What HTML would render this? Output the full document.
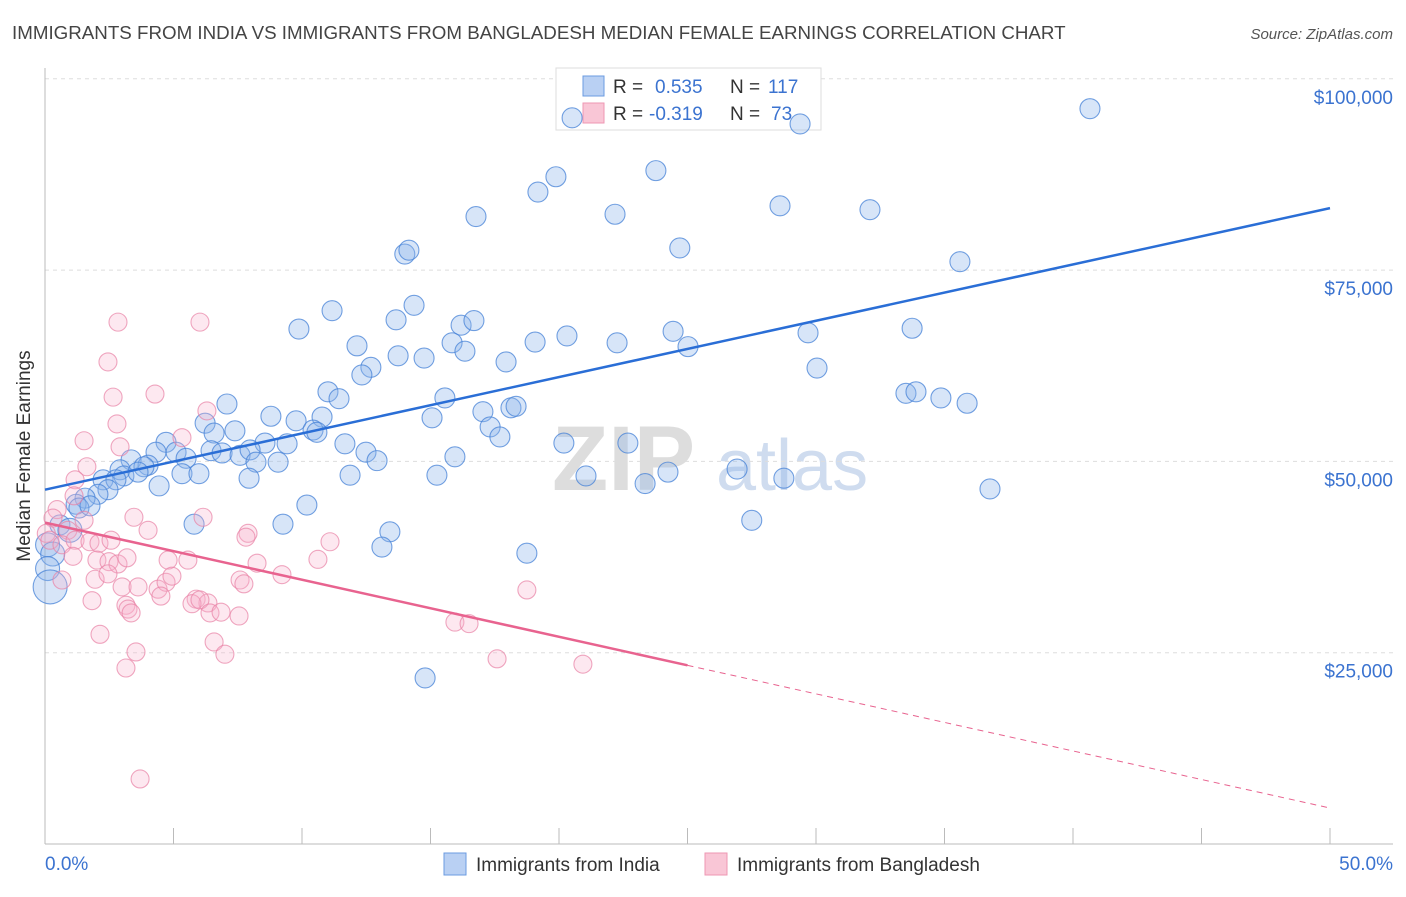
<!DOCTYPE html>
<html><head><meta charset="utf-8"><style>
body{margin:0;background:#fff;font-family:"Liberation Sans",sans-serif;}
svg text{font-family:"Liberation Sans",sans-serif;}
</style></head><body>
<svg id="c" width="1406" height="892" xmlns="http://www.w3.org/2000/svg">
<text x="12" y="39" font-size="18.75" fill="#444">IMMIGRANTS FROM INDIA VS IMMIGRANTS FROM BANGLADESH MEDIAN FEMALE EARNINGS CORRELATION CHART</text>
<text x="1393" y="39" font-size="15" fill="#555" text-anchor="end" font-style="italic">Source: ZipAtlas.com</text>
<g><text x="552" y="490" font-size="92" fill="#ddd" font-family="Liberation Serif" font-weight="bold">ZIP</text><text x="716" y="490" font-size="72" fill="#cfdcef">atlas</text></g>
<g id="grid"></g><g id="axes"></g>
<text x="30" y="456" font-size="19" fill="#333" text-anchor="middle" transform="rotate(-90 30 456)">Median Female Earnings</text>
<text x="45" y="870" font-size="19" fill="#3b73d0">0.0%</text>
<text x="1393" y="870" font-size="19" fill="#3b73d0" text-anchor="end">50.0%</text>
<g>
<rect x="556" y="68" width="265" height="62" fill="#fff" stroke="#ddd"/>
<rect x="583" y="76" width="21" height="20" fill="#b9d0f3" stroke="#6b9be0"/>
<rect x="583" y="103" width="21" height="20" fill="#f9c6d6" stroke="#ee97b3"/>
<text x="613" y="93" font-size="19" fill="#333">R = </text><text x="655" y="93" font-size="19" fill="#3b73d0">0.535</text>
<text x="730" y="93" font-size="19" fill="#333">N = </text><text x="768" y="93" font-size="19" fill="#3b73d0">117</text>
<text x="613" y="120" font-size="19" fill="#333">R = </text><text x="649" y="120" font-size="19" fill="#3b73d0">-0.319</text>
<text x="730" y="120" font-size="19" fill="#333">N = </text><text x="771" y="120" font-size="19" fill="#3b73d0">73</text>
</g>
<g id="pts"></g><g id="lines"></g>
<g>
<rect x="444" y="853" width="22" height="22" fill="#b9d0f3" stroke="#6b9be0"/>
<text x="476" y="871" font-size="19" fill="#333">Immigrants from India</text>
<rect x="705" y="853" width="22" height="22" fill="#f9c6d6" stroke="#ee97b3"/>
<text x="737" y="871" font-size="19" fill="#333">Immigrants from Bangladesh</text>
</g>
</svg>
<script>
const yTicks=[25000,50000,75000,100000];
const yTickLabels=["$25,000","$50,000","$75,000","$100,000"];
const xTicks=[0,5,10,15,20,25,30,35,40,45,50];
const indiaX=[40.66,29.38,20.51,23.77,19.88,19.18,16.77,22.18,28.6,32.1,14.0,14.16,24.7,35.6,11.17,14.36,13.66,9.88,16.19,16.69,15.84,16.34,12.14,19.07,20.31,22.26,24.44,25.02,29.69,33.74,12.68,12.33,13.74,14.75,17.94,30.04,11.01,11.44,7.08,15.56,33.5,33.89,34.86,35.88,8.79,9.77,10.78,15.06,17.04,18.13,18.33,6.23,10.43,10.58,6.58,7.39,17.32,4.71,8.56,9.42,11.67,12.49,17.7,22.68,20.19,4.32,5.1,5.49,6.46,6.89,7.59,7.98,9.07,8.21,12.92,15.95,3.35,4.01,3.85,5.33,5.99,2.92,3.07,3.62,2.26,2.76,4.44,7.94,11.87,15.25,21.05,24.24,26.93,28.75,23.35,36.77,2.45,2.06,1.56,1.21,1.32,1.75,10.19,5.8,9.26,27.5,13.42,13.11,18.75,14.79,0.58,0.97,0.1,0.3,0.1,0.2];
const indiaY=[96.1,94.1,94.9,88.0,87.2,85.2,82.0,82.3,83.4,82.9,77.1,77.6,77.9,76.1,69.7,70.4,68.5,67.3,67.8,68.4,65.5,64.4,65.1,65.6,66.4,65.5,67.0,65.0,66.8,67.4,62.3,61.3,63.8,63.5,63.0,62.2,59.1,58.2,57.5,58.3,58.9,59.1,58.3,57.6,55.9,55.3,55.8,55.7,56.5,57.0,57.2,55.0,54.1,53.8,53.7,54.0,54.5,52.5,52.4,52.3,52.3,51.2,53.2,52.4,52.4,51.2,51.2,50.4,51.4,51.1,50.8,51.5,49.9,49.9,50.1,50.6,50.2,49.5,49.3,48.4,48.4,48.9,48.1,48.6,47.6,47.6,46.8,47.8,48.2,48.2,48.1,48.6,49.0,47.8,47.1,46.4,46.3,45.7,45.2,44.4,43.9,44.2,44.3,41.8,41.8,42.3,40.8,38.8,38.0,21.7,41.7,41.0,39.1,37.9,36.0,33.6];
const bangX=[2.84,6.03,2.45,4.28,2.65,1.52,2.8,2.92,5.33,6.3,1.63,1.17,1.13,0.47,0.31,0.05,0.19,0.89,1.52,0.66,1.17,1.75,2.1,2.57,3.46,4.01,6.15,7.9,7.82,11.09,2.02,2.49,2.84,1.09,1.95,2.45,3.19,4.79,5.56,8.25,9.22,10.62,0.66,1.83,3.0,3.62,4.4,4.71,4.94,5.88,6.34,7.59,7.74,2.14,3.15,3.23,3.35,4.51,5.72,6.03,6.42,6.85,7.55,3.54,3.15,6.58,7.0,15.95,16.5,18.75,17.59,20.93,3.7];
const bangY=[68.2,68.2,63.0,58.8,58.4,52.7,54.9,51.9,53.1,56.6,49.3,47.6,45.5,43.7,42.6,40.6,39.7,41.0,42.3,39.1,39.7,39.5,39.3,39.7,42.7,41.0,42.7,40.6,40.1,39.5,37.1,36.9,36.6,37.6,34.6,35.3,37.4,37.1,37.1,36.7,35.2,37.2,34.5,31.8,33.6,33.6,33.3,34.2,35.0,32.0,31.5,34.5,34.0,27.4,31.2,30.7,30.2,32.4,31.4,31.9,30.2,30.3,29.8,25.1,23.0,26.4,24.8,29.0,28.8,33.2,24.2,23.5,8.5];
const indiaTrend=[46.3,83.1];
const bangTrend=[42.0,4.7];
const bangSolidEnd=25;
const NS="http://www.w3.org/2000/svg";
const X=p=>45+p*25.7;
const Y=v=>844-v/25000*191.3;
function mk(t,a,parent){const e=document.createElementNS(NS,t);for(const k in a)e.setAttribute(k,a[k]);parent.appendChild(e);return e;}
const gridG=document.getElementById('grid'),axesG=document.getElementById('axes');
yTicks.forEach((t,i)=>{
 const l=mk('line',{x1:45,x2:1393,y1:Y(t),y2:Y(t),stroke:'#ddd','stroke-dasharray':'4,4'},gridG);
 
 
 const tx=mk('text',{x:1393,y:Y(t)+25,'font-size':19,fill:'#3b73d0','text-anchor':'end'},gridG);
 tx.textContent=yTickLabels[i];
 
 
});
const ax=mk('line',{x1:45,x2:1393,y1:844,y2:844,stroke:'#bbb'},axesG);


const ay=mk('line',{x1:45,x2:45,y1:68,y2:844,stroke:'#bbb'},axesG);


xTicks.forEach(t=>{const l=mk('line',{x1:X(t),x2:X(t),y1:828,y2:844,stroke:'#bbb'},axesG);
 
 });
const ptsG=document.getElementById('pts');
indiaX.forEach((x,i)=>{const r=(i===indiaX.length-1)?17:(i>=indiaX.length-5?12:10);
 const c=mk('circle',{cx:X(x),cy:Y(indiaY[i]*1000),r:r,fill:'rgba(140,180,235,0.35)',stroke:'rgba(70,130,215,0.75)','stroke-width':1.1},ptsG);
 
 });
bangX.forEach((x,i)=>{const c=mk('circle',{cx:X(x),cy:Y(bangY[i]*1000),r:9,fill:'rgba(248,180,205,0.3)',stroke:'rgba(232,130,165,0.7)','stroke-width':1.1},ptsG);
 
 });
const linesG=document.getElementById('lines');
const bl=mk('line',{x1:X(0),y1:Y(indiaTrend[0]*1000),x2:X(50),y2:Y(indiaTrend[1]*1000),stroke:'#2a6ed6','stroke-width':2.5},linesG);


const bm=bangTrend[0]+(bangTrend[1]-bangTrend[0])*bangSolidEnd/50;
const pl=mk('line',{x1:X(0),y1:Y(bangTrend[0]*1000),x2:X(bangSolidEnd),y2:Y(bm*1000),stroke:'#e8638f','stroke-width':2.5},linesG);


const pd=mk('line',{x1:X(bangSolidEnd),y1:Y(bm*1000),x2:X(50),y2:Y(bangTrend[1]*1000),stroke:'#e8638f','stroke-width':1,'stroke-dasharray':'6,5'},linesG);


</script>
</body></html>
